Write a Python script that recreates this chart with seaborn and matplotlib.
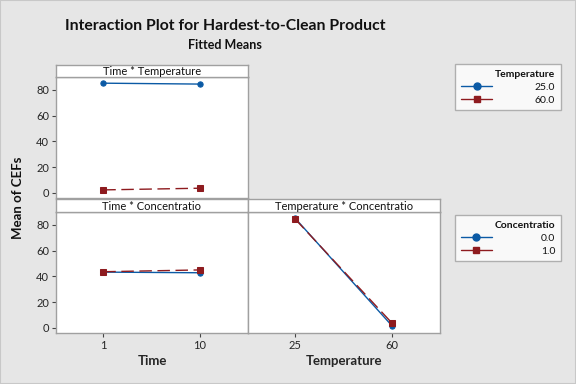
import matplotlib
matplotlib.use("Agg")
import matplotlib.pyplot as plt
import seaborn as sns
import pandas as pd
from matplotlib.lines import Line2D
from matplotlib.patches import Rectangle

# ---- data ----
time_levels = ["1", "10"]
temp_levels = ["25", "60"]
temp_legend = ["25.0", "60.0"]
conc_legend = ["0.0", "1.0"]

time_temp_25 = [85.2, 84.5]
time_temp_60 = [2.3, 3.6]
time_conc_0 = [43.3, 42.8]
time_conc_1 = [43.6, 45.0]
temp_conc_0 = [85.0, 1.8]
temp_conc_1 = [84.4, 3.9]

BLUE = "#0B5AA5"
RED = "#8E1B1F"
BG = "#E6E6E6"
EDGE = "#A0A0A0"
FONT = ["Lato", "DejaVu Sans"]

sns.set_theme(style="white")
plt.rcParams["font.family"] = FONT
plt.rcParams["text.color"] = "#111111"

fig = plt.figure(figsize=(5.76, 3.84), dpi=100, facecolor=BG)

W, H = 576.0, 384.0
def rect(x0, y0, x1, y1):
    return [x0 / W, 1 - y1 / H, (x1 - x0) / W, (y1 - y0) / H]

def make_df(levels, s0, s1, labels):
    return pd.DataFrame({
        "x": levels + levels,
        "y": s0 + s1,
        "g": [labels[0]] * len(levels) + [labels[1]] * len(levels),
    })

def panel(ax, df, labels):
    sns.pointplot(data=df, x="x", y="y", hue="g", hue_order=labels,
                  palette=[BLUE, RED], markers=["o", "s"],
                  linestyles=["-", (0, (9, 4))], errorbar=None, ax=ax,
                  markersize=3.8, linewidth=1.0, legend=False)
    ax.set_xlim(-0.49, 1.5)
    ax.set_ylim(-4, 90)
    ax.set_facecolor("white")
    for s in ax.spines.values():
        s.set_color(EDGE)
        s.set_linewidth(1.0)
    ax.set_ylabel("")
    ax.set_xlabel("")

def strip(rect_, text):
    sa = fig.add_axes(rect_)
    sa.set_facecolor("white")
    sa.set_xticks([]); sa.set_yticks([])
    for s in sa.spines.values():
        s.set_color(EDGE)
        s.set_linewidth(1.0)
    sa.text(0.5, 0.45, text, ha="center", va="center", fontsize=8,
            transform=sa.transAxes)

tick_kw = dict(labelsize=8, length=3, width=0.8, color="#444444", pad=2)

# top-left: Time * Temperature
ax1 = fig.add_axes(rect(56, 77, 248, 198))
panel(ax1, make_df(time_levels, time_temp_25, time_temp_60, temp_legend), temp_legend)
ax1.set_yticks([0, 20, 40, 60, 80])
ax1.set_xticks([])
ax1.tick_params(axis="y", left=True, **tick_kw)
strip(rect(56, 65, 248, 77), "Time * Temperature")

# bottom-left: Time * Concentratio
ax2 = fig.add_axes(rect(56, 212, 248, 333))
panel(ax2, make_df(time_levels, time_conc_0, time_conc_1, conc_legend), conc_legend)
ax2.set_yticks([0, 20, 40, 60, 80])
ax2.tick_params(axis="both", left=True, bottom=True, **tick_kw)
ax2.set_xlabel("Time", fontsize=9.5, fontweight="bold", labelpad=3)
strip(rect(56, 199, 248, 212), "Time * Concentratio")

# bottom-right: Temperature * Concentratio
ax3 = fig.add_axes(rect(248, 212, 440, 333))
panel(ax3, make_df(temp_levels, temp_conc_0, temp_conc_1, conc_legend), conc_legend)
ax3.set_yticks([])
ax3.tick_params(axis="x", bottom=True, **tick_kw)
ax3.set_xlabel("Temperature", fontsize=9.5, fontweight="bold", labelpad=3)
strip(rect(248, 199, 440, 212), "Temperature * Concentratio")

# titles
fig.text(225 / W, 1 - 26 / H, "Interaction Plot for Hardest-to-Clean Product",
         ha="center", va="center", fontsize=11.3, fontweight="bold")
fig.text(225 / W, 1 - 45 / H, "Fitted Means", ha="center", va="center",
         fontsize=9, fontweight="bold")
fig.text(18 / W, 1 - 198 / H, "Mean of CEFs", ha="center", va="center",
         rotation=90, fontsize=9.5, fontweight="bold")

# legends
def legend(title, labels, top, pad):
    handles = [
        Line2D([], [], color=BLUE, marker="o", linestyle="-", markersize=5, linewidth=1.0),
        Line2D([], [], color=RED, marker="s", linestyle="-", markersize=5, linewidth=1.0),
    ]
    lg = fig.legend(handles, labels, title=title, loc="upper right",
                    bbox_to_anchor=(561 / W, 1 - top / H), borderaxespad=0,
                    frameon=True, fontsize=7.5,
                    title_fontproperties={"size": 7.5, "weight": "bold", "family": FONT},
                    alignment="right", handlelength=3.0, handletextpad=pad,
                    borderpad=0.55, labelspacing=0.35, fancybox=False)
    lg.get_frame().set_edgecolor(EDGE)
    lg.get_frame().set_linewidth(1.0)
    return lg

legend("Temperature", temp_legend, 64, 4.1)
legend("Concentratio", conc_legend, 215, 4.7)

fig.patches.append(Rectangle((0, 0), 1, 1, transform=fig.transFigure,
                             fill=False, edgecolor="#C8C8C8", linewidth=1.5))

fig.savefig("out.png", dpi=100, facecolor=BG)
